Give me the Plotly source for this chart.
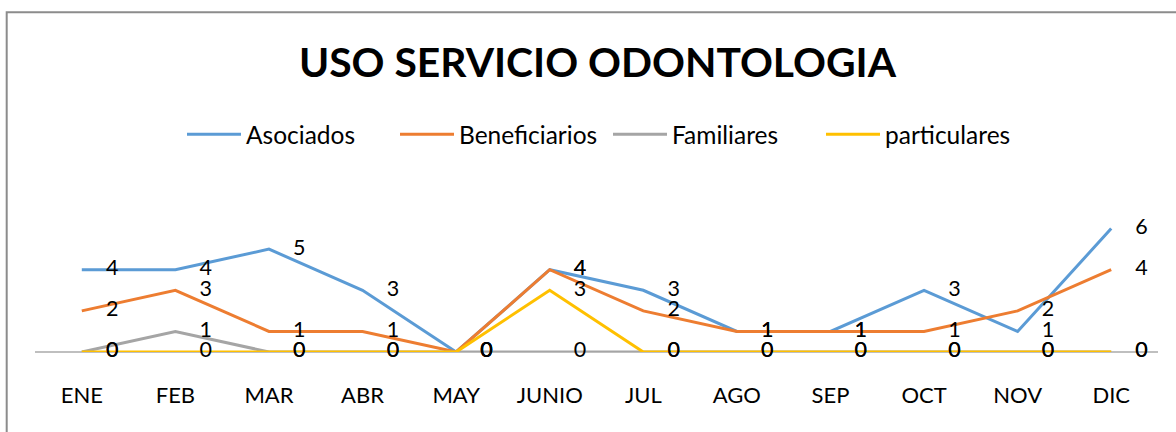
import plotly.graph_objects as go

months = ["ENE", "FEB", "MAR", "ABR", "MAY", "JUNIO", "JUL", "AGO", "SEP", "OCT", "NOV", "DIC"]
asociados = [4, 4, 5, 3, 0, 4, 3, 1, 1, 3, 1, 6]
beneficiarios = [2, 3, 1, 1, 0, 4, 2, 1, 1, 1, 2, 4]
familiares = [0, 1, 0, 0, 0, 0, 0, 0, 0, 0, 0, 0]
particulares = [0, 0, 0, 0, 0, 3, 0, 0, 0, 0, 0, 0]

series_names = ["Asociados", "Beneficiarios", "Familiares", "particulares"]
series_values = [asociados, beneficiarios, familiares, particulares]
colors = ["#5B9BD5", "#ED7D31", "#A5A5A5", "#FFC000"]

FONT = "Lato"
W, H = 1176, 432
L, R, T, B = 35, 18, 208, 80
PW, PH = W - L - R, H - T - B

fig = go.Figure()
for name, vals, col in zip(series_names, series_values, colors):
    fig.add_trace(go.Scatter(
        x=months, y=vals, name=name, mode="lines",
        line=dict(color=col, width=3), hoverinfo="x+y+name",
    ))
for name, vals, col in zip(series_names, series_values, colors):
    fig.add_trace(go.Scatter(
        x=months, y=vals, mode="markers+text", showlegend=False,
        text=[str(v) for v in vals], textposition="middle right",
        textfont=dict(family=FONT, size=21.5, color="#000000"),
        marker=dict(size=37, color="rgba(0,0,0,0)"),
        hoverinfo="skip", cliponaxis=False,
    ))

fig.update_layout(
    width=W, height=H,
    margin=dict(l=L, r=R, t=T, b=B, autoexpand=False),
    paper_bgcolor="white", plot_bgcolor="white",
    font=dict(family=FONT, color="#000000"),
    title=dict(text="<b>USO SERVICIO ODONTOLOGIA</b>", x=597.5 / W, xanchor="center",
               y=1 - 63 / H, yanchor="middle", yref="container",
               font=dict(family=FONT, size=40.8, color="#000000")),
    legend=dict(orientation="h", x=(182 - L) / PW, xanchor="left",
                y=(352 - 134.3) / PH, yanchor="middle",
                font=dict(family=FONT, size=24.5, color="#000000"),
                bgcolor="rgba(0,0,0,0)", traceorder="normal", itemwidth=54,
                entrywidth=144, entrywidthmode="pixels"),
    xaxis=dict(type="category", range=[-0.5, 11.5], showgrid=False, zeroline=False,
               showline=False, ticks="", tickfont=dict(family=FONT, size=22, color="#000000"),
               ticklabelstandoff=28, fixedrange=True, automargin=False),
    yaxis=dict(range=[0, 7], showgrid=False, zeroline=True, zerolinecolor="#BFBFBF",
               zerolinewidth=1.5, showticklabels=False, ticks="", showline=False,
               fixedrange=True, automargin=False),
    showlegend=True,
    shapes=[dict(type="rect", xref="paper", yref="paper",
                 x0=(6.7 - L) / PW, x1=(1200 - L) / PW,
                 y0=(352 - 460) / PH, y1=(352 - 12.3) / PH,
                 line=dict(color="#8C8C8C", width=2), fillcolor="rgba(0,0,0,0)", layer="below")],
)

fig.write_html("out.html", config={"displayModeBar": False},
               post_script="document.body.style.margin='0px';")
